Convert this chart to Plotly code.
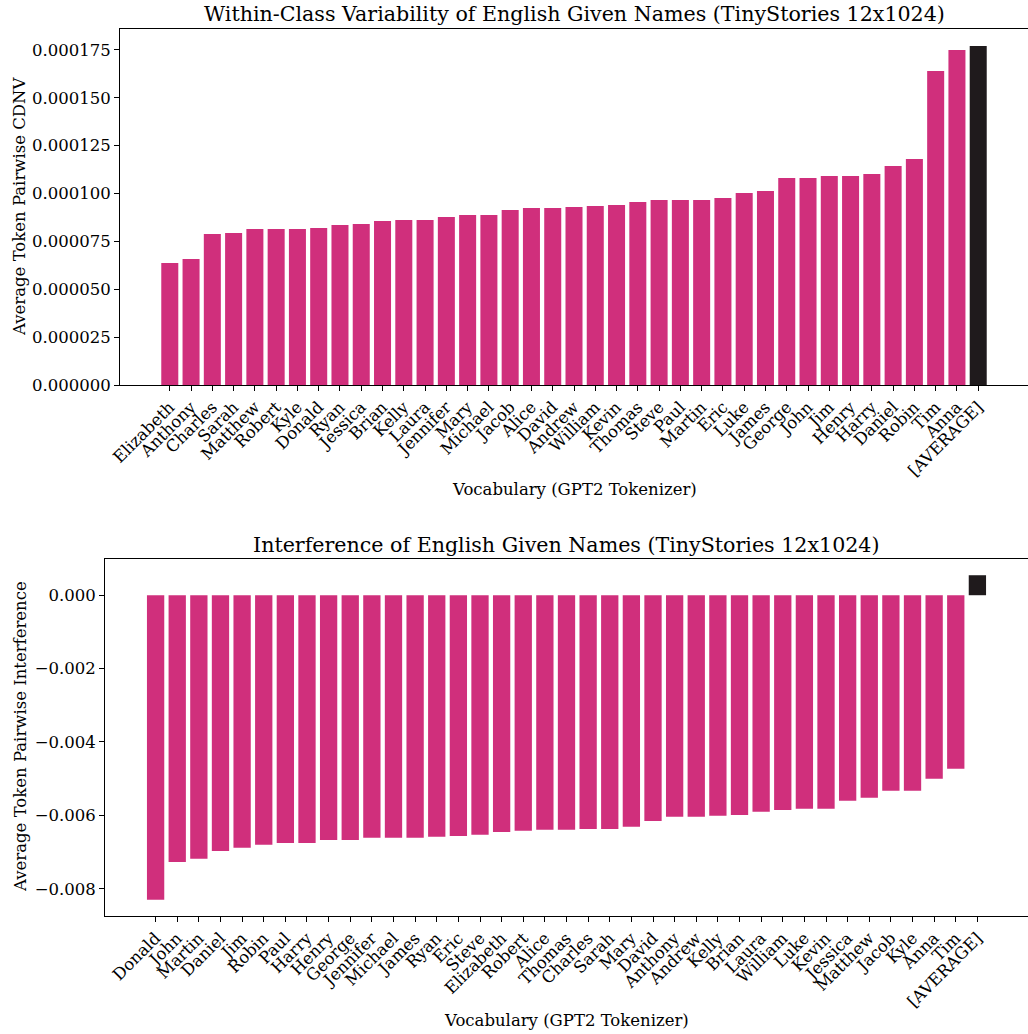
import plotly.graph_objects as go

PINK = "#d02f7c"
DARK = "#1f1a1c"
FONT = "DejaVu Serif"

# within-class variability (top panel), sorted ascending
cdnv_names = [
    "Elizabeth", "Anthony", "Charles", "Sarah", "Matthew", "Robert", "Kyle", "Donald",
    "Ryan", "Jessica", "Brian", "Kelly", "Laura", "Jennifer", "Mary", "Michael", "Jacob",
    "Alice", "David", "Andrew", "William", "Kevin", "Thomas", "Steve", "Paul", "Martin",
    "Eric", "Luke", "James", "George", "John", "Jim", "Henry", "Harry", "Daniel", "Robin",
    "Tim", "Anna", "[AVERAGE]",
]
cdnv_values = [
    6.37e-5, 6.58e-5, 7.89e-5, 7.94e-5, 8.15e-5, 8.15e-5, 8.15e-5, 8.20e-5,
    8.36e-5, 8.41e-5, 8.57e-5, 8.62e-5, 8.62e-5, 8.78e-5, 8.88e-5, 8.88e-5, 9.14e-5,
    9.25e-5, 9.25e-5, 9.30e-5, 9.35e-5, 9.40e-5, 9.56e-5, 9.66e-5, 9.66e-5, 9.66e-5,
    9.77e-5, 1.003e-4, 1.013e-4, 1.081e-4, 1.081e-4, 1.092e-4, 1.092e-4, 1.102e-4,
    1.144e-4, 1.181e-4, 1.640e-4, 1.750e-4, 1.771e-4,
]

# interference (bottom panel), sorted ascending
interf_names = [
    "Donald", "John", "Martin", "Daniel", "Jim", "Robin", "Paul", "Harry", "Henry",
    "George", "Jennifer", "Michael", "James", "Ryan", "Eric", "Steve", "Elizabeth",
    "Robert", "Alice", "Thomas", "Charles", "Sarah", "Mary", "David", "Anthony",
    "Andrew", "Kelly", "Brian", "Laura", "William", "Luke", "Kevin", "Jessica",
    "Matthew", "Jacob", "Kyle", "Anna", "Tim", "[AVERAGE]",
]
interf_values = [
    -0.00830, -0.00727, -0.00718, -0.00697, -0.00688, -0.00680, -0.00675, -0.00675,
    -0.00667, -0.00667, -0.00661, -0.00661, -0.00661, -0.00658, -0.00656, -0.00653,
    -0.00645, -0.00642, -0.00639, -0.00639, -0.00637, -0.00637, -0.00631, -0.00615,
    -0.00604, -0.00604, -0.00601, -0.00599, -0.00590, -0.00585, -0.00582, -0.00582,
    -0.00560, -0.00552, -0.00533, -0.00533, -0.00500, -0.00473, 0.000545,
]

cdnv_ticks = [i * 0.000025 for i in range(8)]
interf_ticks = [-0.008, -0.006, -0.004, -0.002, 0.0]


def bar_colors(names):
    return [DARK if n == "[AVERAGE]" else PINK for n in names]


def pad_range(n):
    # matplotlib-like 5% margins around bars of width 0.8
    span = n - 1 + 0.8
    return [-0.4 - 0.05 * span, n - 1 + 0.4 + 0.05 * span]


fig = go.Figure()
fig.add_trace(go.Bar(x=cdnv_names, y=cdnv_values, marker_color=bar_colors(cdnv_names),
                     marker_line_width=0, xaxis="x", yaxis="y", showlegend=False))
fig.add_trace(go.Bar(x=interf_names, y=interf_values, marker_color=bar_colors(interf_names),
                     marker_line_width=0, xaxis="x2", yaxis="y2", showlegend=False))

axis_common = dict(
    showline=True, linecolor="black", linewidth=1, mirror=True,
    ticks="outside", ticklen=5, tickcolor="black", tickwidth=1,
    showgrid=False, zeroline=False, automargin=False,
    tickfont=dict(family=FONT, size=16.5, color="black"),
)

top_max = max(cdnv_values) * 1.05
lo, hi = min(interf_values), max(interf_values)
span = hi - lo

fig.update_layout(
    width=1028, height=1034,
    margin=dict(l=0, r=0, t=0, b=0),
    paper_bgcolor="white", plot_bgcolor="white",
    bargap=0.2,
    xaxis=dict(domain=[120 / 1028, 1.0], anchor="y", type="category",
               range=pad_range(len(cdnv_names)), tickangle=-45, **axis_common),
    yaxis=dict(domain=[1 - 385 / 1034, 1 - 29 / 1034], anchor="x",
               range=[0, top_max], tickvals=cdnv_ticks, tickformat=".6f", **axis_common),
    xaxis2=dict(domain=[105 / 1028, 1.0], anchor="y2", type="category",
                range=pad_range(len(interf_names)), tickangle=-45, **axis_common),
    yaxis2=dict(domain=[1 - 916 / 1034, 1 - 559 / 1034], anchor="x2",
                range=[lo - 0.05 * span, hi + 0.05 * span], tickvals=interf_ticks,
                tickformat=".3f", **axis_common),
)

title_font = dict(family=FONT, size=20.6, color="black")
label_font = dict(family=FONT, size=16.5, color="black")
fig.add_annotation(text="Within-Class Variability of English Given Names (TinyStories 12x1024)",
                   x=(120 + 1028) / 2 / 1028, y=1 - 14 / 1034, xref="paper", yref="paper",
                   showarrow=False, font=title_font, xanchor="center", yanchor="middle")
fig.add_annotation(text="Interference of English Given Names (TinyStories 12x1024)",
                   x=(105 + 1028) / 2 / 1028, y=1 - 545 / 1034, xref="paper", yref="paper",
                   showarrow=False, font=title_font, xanchor="center", yanchor="middle")
fig.add_annotation(text="Vocabulary (GPT2 Tokenizer)",
                   x=(120 + 1028) / 2 / 1028, y=1 - 489 / 1034, xref="paper", yref="paper",
                   showarrow=False, font=label_font, xanchor="center", yanchor="middle")
fig.add_annotation(text="Vocabulary (GPT2 Tokenizer)",
                   x=(105 + 1028) / 2 / 1028, y=1 - 1020 / 1034, xref="paper", yref="paper",
                   showarrow=False, font=label_font, xanchor="center", yanchor="middle")
fig.add_annotation(text="Average Token Pairwise CDNV",
                   x=20 / 1028, y=1 - 207 / 1034, xref="paper", yref="paper", textangle=-90,
                   showarrow=False, font=label_font, xanchor="center", yanchor="middle")
fig.add_annotation(text="Average Token Pairwise Interference",
                   x=20 / 1028, y=1 - 737 / 1034, xref="paper", yref="paper", textangle=-90,
                   showarrow=False, font=label_font, xanchor="center", yanchor="middle")

# drop the page's default body margin so the figure sits flush in the window
fig.write_html(
    "out.html",
    config={"displayModeBar": False},
    post_script="document.body.style.margin='0';document.body.style.overflow='hidden';",
)
